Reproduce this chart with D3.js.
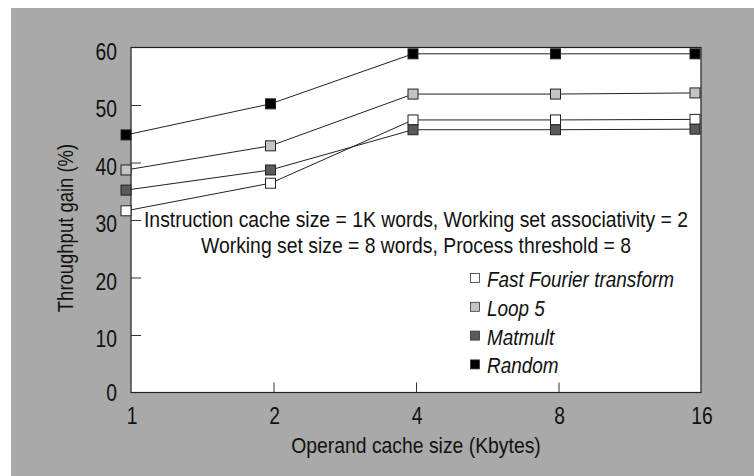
<html>
<head>
<script src="https://cdn.jsdelivr.net/npm/d3@7"></script>
<style>
  body { margin: 0; background: #fff; }
  svg text { font-family: "Liberation Sans", Arial, sans-serif; fill: #111; }
</style>
</head>
<body>
<svg id="chart" width="754" height="476"></svg>
<script>
// cache sizes (Kbytes)
var sizes = [1, 2, 4, 8, 16];
var yTicks = [0, 10, 20, 30, 40, 50, 60];

// throughput gain (%) per benchmark
var fft     = [31.6, 36.4, 47.4, 47.4, 47.5];
var loop5   = [38.7, 42.9, 51.9, 51.9, 52.1];
var matmult = [35.2, 38.7, 45.7, 45.7, 45.8];
var random  = [44.8, 50.2, 58.9, 58.9, 58.9];

var names = ["Fast Fourier transform", "Loop 5", "Matmult", "Random"];
var fills = ["#ffffff", "#c4c4c4", "#5a5a5a", "#000000"];

var note1 = "Instruction cache size = 1K words, Working set associativity = 2";
var note2 = "Working set size = 8 words, Process threshold = 8";

var svg = d3.select("#chart");

// condensed-looking text: a scaled group round a plain text
function label(x, y, str, anchor, size, squeeze, italic, rot) {
  var g = svg.append("g")
    .attr("transform", "translate(" + x + "," + y + ")" + (rot ? " rotate(" + rot + ")" : "") + " scale(" + squeeze + ",1)");
  return g.append("text")
    .attr("text-anchor", anchor || "start")
    .style("font-size", size + "px")
    .style("font-style", italic ? "italic" : "normal")
    .text(str);
}

// gray halftone-ish background
svg.append("rect")
  .attr("x", 11).attr("y", 8)
  .attr("width", 743).attr("height", 468)
  .attr("fill", "#a9a9a9");

var pLeft = 131, pRight = 701, pTop = 47.5, pBottom = 392.5;

var x = d3.scaleLog().base(2).domain([1, 16]).range([pLeft, pRight]);
var y = d3.scaleLinear().domain([0, 60]).range([pBottom, pTop]);

svg.append("rect")
  .attr("x", pLeft).attr("y", pTop)
  .attr("width", pRight - pLeft).attr("height", pBottom - pTop)
  .attr("fill", "#fff")
  .attr("stroke", "#222")
  .attr("stroke-width", 1.2);

// y axis: ticks drawn inward, labels to the left
var yAxis = d3.axisRight(y).tickValues(yTicks.slice(1, 6)).tickSize(10).tickFormat("");
svg.append("g").attr("transform", "translate(" + pLeft + ",0)").call(yAxis)
  .call(function(g) { g.select(".domain").remove(); })
  .selectAll("line").attr("stroke", "#333");

yTicks.forEach(function(d) {
  label(117, y(d) + (d == 0 ? 8 : 12), d, "end", 23, 0.84);
});

// x axis: ticks drawn upward
var xAxis = d3.axisTop(x).tickValues(sizes.slice(1, 4)).tickSize(10).tickFormat("");
svg.append("g").attr("transform", "translate(0," + pBottom + ")").call(xAxis)
  .call(function(g) { g.select(".domain").remove(); })
  .selectAll("line").attr("stroke", "#333");

sizes.forEach(function(d) {
  label(x(d) + 1, 424, d, "middle", 23, 0.84);
});

label(416, 453, "Operand cache size (Kbytes)", "middle", 22, 0.88);
label(73, 228, "Throughput gain (%)", "middle", 22, 0.84, false, -90);

// series
var series = [fft, loop5, matmult, random];

// end markers sit against the plot edges
function markerX(i) {
  var px = x(sizes[i]);
  if (i == 0) return px - 5;
  if (i == sizes.length - 1) return px - 6;
  return px - 3;
}

var line = d3.line()
  .x(function(d, i) { return markerX(i); })
  .y(function(d) { return y(d); });

var order = [3, 1, 0, 2];
order.forEach(function(s) {
  svg.append("path")
    .datum(series[s])
    .attr("d", line)
    .attr("fill", "none")
    .attr("stroke", "#222")
    .attr("stroke-width", 1);
});

order.forEach(function(s) {
  svg.append("g").selectAll("rect")
    .data(series[s])
    .enter()
    .append("rect")
      .attr("x", function(d, i) { return markerX(i) - 5; })
      .attr("y", function(d) { return y(d) - 5; })
      .attr("width", 10)
      .attr("height", 10)
      .attr("fill", fills[s])
      .attr("stroke", "#222")
      .attr("stroke-width", 1);
});

// notes
label(416, 227, note1, "middle", 22, 0.88);
label(416, 253, note2, "middle", 22, 0.88);

// legend
var leg = svg.append("g");
leg.selectAll("rect")
  .data(names)
  .enter()
  .append("rect")
    .attr("x", 470.5)
    .attr("y", function(d, i) { return 273.5 + i * 28.8; })
    .attr("width", 9)
    .attr("height", 9)
    .attr("fill", function(d, i) { return fills[i]; })
    .attr("stroke", "#333")
    .attr("stroke-width", 0.8);

names.forEach(function(d, i) {
  label(487, 287 + i * 28.8, d, "start", 22, 0.86, true);
});
</script>
</body>
</html>
